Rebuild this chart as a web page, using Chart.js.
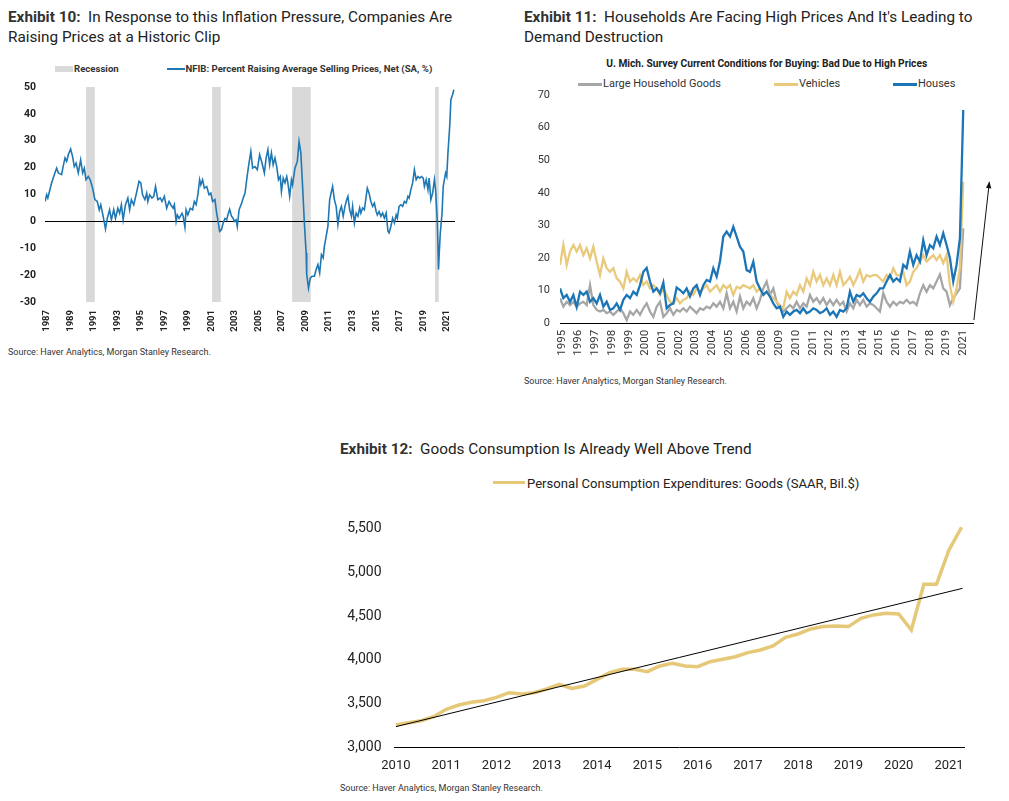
<!DOCTYPE html>
<html>
<head>
<meta charset="utf-8">
<script src="https://cdn.jsdelivr.net/npm/chart.js@4.4.1/dist/chart.umd.min.js"></script>
<style>
  html, body { margin: 0; padding: 0; background: #fff; }
  body { position: relative; width: 1009px; height: 801px; overflow: hidden; font-family: Roboto, "Noto Sans", sans-serif; color: #222; }
  .abs { position: absolute; white-space: nowrap; line-height: 1; }
  .title { font-size: 15.3px; line-height: 19.7px; color: #222; }
  .title b { color: #333; }
  .src { font-size: 9px; color: #333; }
  .swatch { position: absolute; }
  canvas { position: absolute; }
</style>
</head>
<body>

<!-- Exhibit 10 -->
<div class="abs title" style="left:8px;top:8.1px;"><b>Exhibit 10:</b>&nbsp; In Response to this Inflation Pressure, Companies Are<br>Raising Prices at a Historic Clip</div>
<div class="swatch" style="left:55px;top:66px;width:18px;height:6px;background:#d9d9d9;"></div>
<div class="abs" style="left:74px;top:64.3px;font-size:9.6px;font-weight:bold;color:#333;">Recession</div>
<div class="swatch" style="left:167px;top:68.3px;width:18px;height:2px;background:#1f78b4;"></div>
<div class="abs" style="left:185.5px;top:64.3px;font-size:9.6px;font-weight:bold;color:#333;">NFIB: Percent Raising Average Selling Prices, Net (SA, %)</div>
<canvas id="nfibChart" width="470" height="265" style="left:0;top:80px;width:470px;height:265px;"></canvas>
<div class="abs src" style="left:8px;top:348px;">Source: Haver Analytics, Morgan Stanley Research.</div>

<!-- Exhibit 11 -->
<div class="abs title" style="left:524px;top:8.1px;"><b>Exhibit 11:</b>&nbsp; Households Are Facing High Prices And It's Leading to<br>Demand Destruction</div>
<div class="abs" style="left:566.7px;width:400px;text-align:center;top:59px;font-size:10.2px;font-weight:bold;color:#222;">U. Mich. Survey Current Conditions for Buying: Bad Due to High Prices</div>
<div class="swatch" style="left:578px;top:83px;width:24px;height:3px;background:#a6a6a6;"></div>
<div class="abs" style="left:603px;top:78px;font-size:11px;color:#333;">Large Household Goods</div>
<div class="swatch" style="left:774px;top:83px;width:24px;height:3px;background:#e9c97c;"></div>
<div class="abs" style="left:799px;top:78px;font-size:11px;color:#333;">Vehicles</div>
<div class="swatch" style="left:893px;top:83px;width:24px;height:3px;background:#1b75b6;"></div>
<div class="abs" style="left:918px;top:78px;font-size:11px;color:#333;">Houses</div>
<canvas id="umichChart" width="500" height="277" style="left:500px;top:88px;width:500px;height:277px;"></canvas>
<div class="abs src" style="left:524px;top:377px;">Source: Haver Analytics, Morgan Stanley Research.</div>

<!-- Exhibit 12 -->
<div class="abs title" style="left:340px;top:442.2px;line-height:1;"><b>Exhibit 12:</b>&nbsp; Goods Consumption Is Already Well Above Trend</div>
<div class="swatch" style="left:493px;top:480.5px;width:32px;height:3.5px;background:#e5c878;"></div>
<div class="abs" style="left:527px;top:477px;font-size:13.1px;color:#222;">Personal Consumption Expenditures: Goods (SAAR, Bil.$)</div>
<canvas id="pceChart" width="650" height="263" style="left:330px;top:515px;width:650px;height:263px;"></canvas>
<div class="abs src" style="left:340px;top:784px;">Source: Haver Analytics, Morgan Stanley Research.</div>

<script>
/* ---------- Exhibit 10: NFIB price plans ---------- */
const NFIB_YEARS = [
  1986.86, 1987.0, 1987.1, 1987.42, 1987.7, 1987.85, 1988.0, 1988.27, 1988.4, 1988.56,
  1988.7, 1988.84, 1989.04, 1989.2, 1989.35, 1989.5, 1989.69, 1989.89, 1990.06, 1990.2,
  1990.34, 1990.54, 1990.7, 1990.9, 1991.1, 1991.3, 1991.47, 1991.6, 1991.8, 1992.0,
  1992.15, 1992.35, 1992.5, 1992.7, 1992.85, 1993.05, 1993.2, 1993.35, 1993.5, 1993.7,
  1993.9, 1994.05, 1994.2, 1994.4, 1994.6, 1994.85, 1995.0, 1995.15, 1995.35, 1995.5,
  1995.6, 1995.75, 1995.95, 1996.1, 1996.25, 1996.45, 1996.65, 1996.8, 1997.0, 1997.2,
  1997.4, 1997.55, 1997.75, 1997.85, 1998.0, 1998.1, 1998.25, 1998.5, 1998.6, 1998.75,
  1998.85, 1999.0, 1999.2, 1999.4, 1999.55, 1999.7, 1999.85, 2000.0, 2000.1, 2000.25,
  2000.4, 2000.6, 2000.8, 2000.95, 2001.1, 2001.3, 2001.45, 2001.55, 2001.7, 2001.85,
  2002.0, 2002.15, 2002.3, 2002.4, 2002.55, 2002.7, 2002.85, 2002.95, 2003.1, 2003.2,
  2003.35, 2003.55, 2003.75, 2003.86, 2004.0, 2004.15, 2004.35, 2004.5, 2004.7, 2004.9,
  2005.1, 2005.3, 2005.5, 2005.65, 2005.8, 2005.95, 2006.1, 2006.25, 2006.4, 2006.55,
  2006.7, 2006.85, 2006.95, 2007.1, 2007.25, 2007.4, 2007.5, 2007.65, 2007.8, 2007.9,
  2008.1, 2008.3, 2008.45, 2008.6, 2008.75, 2008.9, 2009.05, 2009.1, 2009.25, 2009.4,
  2009.55, 2009.75, 2009.9, 2010.05, 2010.2, 2010.35, 2010.5, 2010.6, 2010.75, 2010.9,
  2011.05, 2011.2, 2011.3, 2011.45, 2011.6, 2011.75, 2011.9, 2012.05, 2012.2, 2012.35,
  2012.5, 2012.6, 2012.75, 2012.9, 2013.0, 2013.15, 2013.3, 2013.45, 2013.6, 2013.7,
  2013.85, 2014.0, 2014.15, 2014.25, 2014.4, 2014.55, 2014.7, 2014.85, 2015.0, 2015.1,
  2015.25, 2015.4, 2015.55, 2015.7, 2015.85, 2016.0, 2016.1, 2016.25, 2016.4, 2016.55,
  2016.7, 2016.8, 2016.95, 2017.1, 2017.25, 2017.4, 2017.55, 2017.7, 2017.8, 2017.95,
  2018.1, 2018.25, 2018.4, 2018.55, 2018.7, 2018.85, 2019.0, 2019.1, 2019.25, 2019.4,
  2019.5, 2019.65, 2019.8, 2019.95, 2020.05, 2020.2, 2020.3, 2020.35, 2020.45, 2020.6,
  2020.7, 2020.8, 2020.9, 2021.0, 2021.1, 2021.25, 2021.35, 2021.5, 2021.6
];
const NFIB_VALUES = [
  7.4, 9.9, 8.7, 14.3, 18, 19.8, 18, 17.4, 20.4, 23.6,
  22.3, 24.8, 26.9, 24.2, 20.4, 21.7, 18, 22.9, 18, 19.8,
  15.5, 16.7, 15.5, 12.4, 8.1, 7.4, 4.3, 6.2, 1.9, -2.8,
  1.1, 4.3, 0.6, 4.3, 1.1, 4.9, 3, 6.2, 0.6, 6.2,
  8.7, 4.3, 8.1, 6.2, 9.9, 14.9, 14.3, 9.9, 8.1, 10.5,
  7.4, 9.9, 8.7, 9.3, 13, 8.1, 8.7, 7.4, 9.3, 4.9,
  7.4, 6.2, 4.9, 6.2, 0, 2.4, 1.1, 3, 1.9, -2.2,
  4.3, 2.4, 4.9, 4.3, 7.4, 6.2, 9.9, 15.5, 13.6, 15.5,
  12.4, 13, 9.9, 10.5, 7.4, 8.1, 3, 0.6, -3.7, -3.1,
  -0.6, 1.1, 0.6, 2.4, 4.5, 2, 1.1, 0, 0.6, -1.9,
  4.3, 6.5, 9.3, 10.5, 15.5, 20.4, 26, 19.8, 20.4, 19.2,
  24.8, 21.7, 18, 23.6, 26.7, 21.1, 25.5, 21.1, 23.6, 20.4,
  15.5, 16.7, 11.1, 16.1, 14.3, 16.7, 14.3, 9.3, 15.5, 13.6,
  19.8, 22.3, 29.7, 25.5, 13, -0.6, -11.8, -19.8, -24.8, -21.1,
  -20.4, -20.4, -17.9, -16.1, -19.2, -12.4, -13.6, -9.3, -5.6, -1.9,
  8.1, 11.1, 13, 8.1, 5.6, -1.2, 3.7, 5.6, 1.9, 5.6,
  8.1, 9.3, 4.3, 1.9, 5.6, -0.6, 3.1, 1.9, 5, 3.1,
  5, 4.3, 9.3, 12.4, 10.5, 7.4, 5.6, 6.8, 3.7, 2.4,
  3.7, 1.9, 3.1, 1.2, 3.1, -3.7, -4.3, -1.9, 1.2, -0.6,
  2.4, 1.2, 5.6, 6.2, 5.6, 7.4, 6.8, 9.3, 8.7, 11.8,
  14.3, 19.2, 15.5, 16.7, 16.1, 16.7, 16.1, 13, 15.5, 11.8,
  16.1, 8.1, 10.5, 15.5, 11.8, -0.6, -17.9, -12.9, -4.3, 3.1,
  13, 15.5, 18, 16.7, 25.5, 35.4, 45.3, 47.2, 49
];
const NFIB_TICKS = [1987, 1989, 1991, 1993, 1995, 1997, 1999, 2001, 2003, 2005,
  2007, 2009, 2011, 2013, 2015, 2017, 2019, 2021];
const NFIB_Y_TICKS = [-30, -20, -10, 0, 10, 20, 30, 40, 50];
const RECESSION_START = [1990.35, 2001.06, 2007.86, 2020.0];
const RECESSION_END = [1991.09, 2001.8, 2009.44, 2020.32];

/* ---------- Exhibit 11: U. Mich. buying conditions ---------- */
// readings taken at an even step along the axis, starting at the left edge of the plot
const UMICH_START = 1994.892;
const UMICH_STEP = 0.21575;
const LARGE_GOODS = [
  7.7, 5.1, 6.6, 5.6, 6.6, 5.1, 6.1, 6.6, 5.6, 11.7,
  5.6, 4.1, 3.6, 4.1, 3.1, 3.6, 2.6, 3.6, 4.6, 3.1,
  1.0, 3.6, 2.6, 4.1, 2.6, 4.6, 6.1, 3.6, 2.0, 5.1,
  6.6, 2.0, 3.1, 4.6, 2.6, 4.1, 3.6, 4.6, 3.6, 5.1,
  4.1, 3.1, 4.6, 4.1, 5.1, 4.6, 6.1, 5.1, 6.6, 4.6,
  9.2, 4.6, 6.6, 3.6, 8.2, 4.6, 6.6, 5.6, 7.7, 4.6,
  7.2, 10.7, 12.8, 8.7, 10.7, 6.6, 4.6, 3.6, 4.6, 5.6,
  4.6, 6.6, 4.6, 6.1, 5.1, 8.7, 6.6, 7.7, 6.1, 7.7,
  5.6, 7.2, 5.6, 7.2, 5.6, 6.6, 3.6, 6.1, 4.6, 7.2,
  5.6, 7.2, 5.1, 6.1, 5.6, 4.6, 3.6, 9.2, 6.6, 5.1,
  6.6, 5.6, 6.6, 6.1, 7.2, 6.1, 6.6, 5.6, 9.2, 11.7,
  9.7, 11.7, 10.7, 12.8, 15.0, 10.7, 9.7, 5.6, 7.7, 9.2,
  10.7, 29.1
];
const VEHICLES = [
  17.9, 24.0, 17.9, 22.0, 24.0, 22.0, 24.0, 20.9, 23.0, 19.9,
  23.5, 18.9, 14.8, 19.9, 16.9, 15.8, 16.9, 13.8, 12.8, 10.7,
  15.8, 12.8, 13.8, 12.8, 14.8, 11.7, 12.8, 10.7, 11.7, 10.7,
  8.7, 10.7, 8.7, 6.6, 6.1, 7.7, 6.1, 7.2, 7.7, 9.7,
  8.7, 10.7, 9.7, 10.7, 11.7, 9.7, 10.7, 11.7, 9.7, 11.7,
  10.7, 11.7, 8.7, 11.2, 10.7, 11.7, 11.2, 10.7, 11.7, 9.7,
  10.7, 8.7, 9.7, 8.7, 7.7, 6.6, 5.6, 4.6, 9.7, 7.7,
  9.7, 8.7, 11.7, 9.7, 13.8, 11.7, 15.8, 12.8, 14.8, 11.7,
  13.8, 11.7, 14.8, 11.7, 15.8, 11.7, 12.8, 14.3, 11.7, 13.8,
  16.3, 12.8, 14.8, 14.3, 14.8, 14.8, 13.8, 12.8, 14.8, 13.8,
  16.9, 14.8, 14.8, 15.8, 11.7, 12.8, 15.8, 16.9, 18.9, 20.9,
  18.9, 19.9, 20.9, 19.4, 20.9, 18.4, 20.9, 11.7, 6.6, 10.7,
  16.9, 43.4
];
const HOUSES = [
  10.7, 7.7, 8.7, 6.6, 8.7, 5.0, 9.7, 8.7, 9.7, 6.6,
  7.7, 6.1, 8.7, 5.1, 6.6, 4.1, 4.6, 6.1, 4.1, 7.2,
  8.7, 7.7, 9.7, 8.7, 11.7, 15.8, 17.0, 12.8, 9.7, 10.7,
  9.2, 12.5, 4.6, 5.6, 6.1, 11.0, 10.2, 9.2, 10.7, 8.2,
  10.7, 11.7, 8.7, 11.7, 13.3, 12.8, 16.9, 14.3, 19.0, 26.6,
  28.1, 26.6, 29.6, 26.6, 23.5, 22.0, 16.3, 15.8, 18.9, 12.8,
  10.7, 8.7, 9.7, 8.2, 6.1, 4.6, 5.1, 2.0, 3.6, 2.6,
  3.6, 4.1, 3.1, 4.6, 3.1, 3.6, 4.6, 4.1, 3.1, 3.6,
  4.6, 2.6, 3.6, 2.0, 4.1, 3.6, 4.6, 9.7, 6.6, 8.7,
  8.2, 9.2, 7.7, 6.6, 8.2, 9.2, 10.7, 10.7, 12.8, 14.8,
  12.8, 13.8, 12.8, 17.9, 16.9, 22.0, 17.9, 20.9, 18.9, 25.5,
  20.9, 24.0, 23.0, 26.6, 24.0, 27.6, 24.0, 20.0, 12.8, 17.9,
  26.0, 65.4
];
// the source axis labels one tick every 13 months, which is why 2007 and 2020 never show
const UMICH_TICK_LABELS = ['1995', '1996', '1997', '1998', '1999', '2000', '2001', '2002',
  '2003', '2004', '2005', '2006', '2008', '2009', '2010', '2011', '2012', '2013', '2014',
  '2015', '2016', '2017', '2018', '2019', '2021'];
const UMICH_Y_TICKS = [0, 10, 20, 30, 40, 50, 60, 70];
const UMICH_ARROW_FROM = [2021.69, 1.0];
const UMICH_ARROW_TO = [2022.69, 43.4];

/* ---------- Exhibit 12: PCE goods vs trend ---------- */
const PCE_START = 2010;
const PCE_GOODS = [
  3258, 3285, 3308, 3353, 3437, 3486, 3517, 3536, 3574, 3627,
  3612, 3627, 3669, 3722, 3676, 3703, 3779, 3855, 3893, 3893,
  3866, 3931, 3961, 3931, 3923, 3980, 4007, 4037, 4083, 4113,
  4159, 4258, 4296, 4353, 4380, 4387, 4380, 4475, 4513, 4532,
  4524, 4341, 4862, 4862, 5253, 5512
];
const PCE_TREND_X = [2010.0, 2021.27];
const PCE_TREND_Y = [3240, 4816];
const PCE_X_TICKS = [2010, 2011, 2012, 2013, 2014, 2015, 2016, 2017, 2018, 2019, 2020, 2021];
const PCE_Y_TICKS = [3000, 3500, 4000, 4500, 5000, 5500];

const BLUE_NFIB = "#1f78b4";
const BLUE_HOUSES = "#1b75b6";
const GOLD_VEHICLES = "#e9c97c";
const GOLD_PCE = "#e5c878";
const GREY_GOODS = "#a6a6a6";
const RECESSION_GREY = "#d9d9d9";

// pin an axis to a fixed thickness and stop its labels from pushing the plot inwards
function fixedSize(size) {
  return (scale) => {
    if (scale.isHorizontal()) scale.height = size;
    else scale.width = size;
    scale.paddingTop = 0;
    scale.paddingBottom = 0;
    scale.paddingLeft = 0;
    scale.paddingRight = 0;
  };
}

function useTicks(values) {
  return (scale) => {
    scale.ticks = values.map((value) => ({ value }));
  };
}

function zeroLineOnly(ctx) {
  return ctx.tick && ctx.tick.value === 0 ? "#000" : "rgba(0,0,0,0)";
}

const recessionBands = {
  id: "recessionBands",
  beforeDraw(chart) {
    const { ctx, chartArea, scales: { x } } = chart;
    ctx.save();
    ctx.fillStyle = RECESSION_GREY;
    RECESSION_START.forEach((start, i) => {
      const left = x.getPixelForValue(start);
      const right = x.getPixelForValue(RECESSION_END[i]);
      ctx.fillRect(left, chartArea.top, right - left, chartArea.bottom - chartArea.top);
    });
    ctx.restore();
  },
};

const upArrow = {
  id: "upArrow",
  afterDraw(chart) {
    const { ctx, scales: { x, y } } = chart;
    const x0 = x.getPixelForValue(UMICH_ARROW_FROM[0]);
    const y0 = y.getPixelForValue(UMICH_ARROW_FROM[1]);
    const x1 = x.getPixelForValue(UMICH_ARROW_TO[0]);
    const y1 = y.getPixelForValue(UMICH_ARROW_TO[1]);
    const angle = Math.atan2(y1 - y0, x1 - x0);
    ctx.save();
    ctx.strokeStyle = "#111";
    ctx.fillStyle = "#111";
    ctx.lineWidth = 1;
    ctx.beginPath();
    ctx.moveTo(x0, y0);
    ctx.lineTo(x1, y1);
    ctx.stroke();
    ctx.beginPath();
    ctx.moveTo(x1, y1);
    ctx.lineTo(x1 - 7 * Math.cos(angle - 0.4), y1 - 7 * Math.sin(angle - 0.4));
    ctx.lineTo(x1 - 7 * Math.cos(angle + 0.4), y1 - 7 * Math.sin(angle + 0.4));
    ctx.closePath();
    ctx.fill();
    ctx.restore();
  },
};

function renderNfibChart() {
  new Chart(document.getElementById("nfibChart"), {
    type: "line",
    data: {
      datasets: [{
        data: NFIB_YEARS.map((year, i) => ({ x: year, y: NFIB_VALUES[i] })),
        borderColor: BLUE_NFIB,
        borderWidth: 1.6,
        pointRadius: 0,
        tension: 0,
      }],
    },
    options: {
      animation: false,
      responsive: false,
      layout: { autoPadding: false, padding: { top: 7, right: 15, bottom: 0, left: 0 } },
      plugins: { legend: { display: false }, tooltip: { enabled: false } },
      scales: {
        x: {
          type: "linear", min: 1986.86, max: 2021.7,
          afterBuildTicks: useTicks(NFIB_TICKS),
          afterFit: fixedSize(43),
          grid: { display: false, drawTicks: false },
          border: { display: false },
          ticks: {
            autoSkip: false, minRotation: 90, maxRotation: 90, padding: 8,
            color: "#222", font: { family: "Roboto", weight: "bold", size: 9.5 },
            callback: (value) => String(value),
          },
        },
        y: {
          min: -30, max: 50,
          afterBuildTicks: useTicks(NFIB_Y_TICKS),
          afterFit: fixedSize(45),
          grid: { drawTicks: false, color: zeroLineOnly, lineWidth: 1 },
          border: { display: false },
          ticks: { padding: 9, color: "#222", font: { family: "Roboto", weight: "bold", size: 10.5 } },
        },
      },
    },
    plugins: [recessionBands],
  });
}

function renderUmichChart() {
  const toPoints = (values) => values.map((y, i) => ({ x: UMICH_START + i * UMICH_STEP, y }));
  new Chart(document.getElementById("umichChart"), {
    type: "line",
    data: {
      datasets: [
        { label: "Houses", data: toPoints(HOUSES), borderColor: BLUE_HOUSES, borderWidth: 2.3, pointRadius: 0, order: 1 },
        { label: "Vehicles", data: toPoints(VEHICLES), borderColor: GOLD_VEHICLES, borderWidth: 2.3, pointRadius: 0, order: 2 },
        { label: "Large Household Goods", data: toPoints(LARGE_GOODS), borderColor: GREY_GOODS, borderWidth: 2.3, pointRadius: 0, order: 3 },
      ],
    },
    options: {
      animation: false,
      responsive: false,
      layout: { autoPadding: false, padding: { top: 7, right: 27, bottom: 0, left: 0 } },
      plugins: { legend: { display: false }, tooltip: { enabled: false } },
      scales: {
        x: {
          type: "linear", min: 1994.89, max: 2021.63,
          afterBuildTicks: useTicks(UMICH_TICK_LABELS.map((_, i) => 1995 + (13 * i) / 12)),
          afterFit: fixedSize(41.7),
          grid: { display: false, drawTicks: false },
          border: { display: true, color: "#000", width: 1 },
          ticks: {
            autoSkip: false, minRotation: 90, maxRotation: 90, padding: 6.5,
            color: "#333", font: { family: "Roboto", size: 11.5 },
            callback: (value, index) => UMICH_TICK_LABELS[index],
          },
        },
        y: {
          min: 0, max: 70,
          afterBuildTicks: useTicks(UMICH_Y_TICKS),
          afterFit: fixedSize(60),
          grid: { display: false, drawTicks: false },
          border: { display: false },
          ticks: { padding: 10, color: "#333", font: { family: "Roboto", size: 11 } },
        },
      },
    },
    plugins: [upArrow],
  });
}

function renderPceChart() {
  new Chart(document.getElementById("pceChart"), {
    type: "line",
    data: {
      datasets: [
        {
          label: "Trend",
          data: PCE_TREND_X.map((x, i) => ({ x, y: PCE_TREND_Y[i] })),
          borderColor: "#000", borderWidth: 1, pointRadius: 0, order: 0,
        },
        {
          label: "Personal Consumption Expenditures: Goods (SAAR, Bil.$)",
          data: PCE_GOODS.map((y, i) => ({ x: PCE_START + i * 0.25, y })),
          borderColor: GOLD_PCE, borderWidth: 3.5, pointRadius: 0, order: 1, clip: false,
        },
      ],
    },
    options: {
      animation: false,
      responsive: false,
      layout: { autoPadding: false, padding: { top: 13.3, right: 15.5, bottom: 0, left: 0 } },
      plugins: { legend: { display: false }, tooltip: { enabled: false } },
      scales: {
        x: {
          type: "linear", min: 2009.968, max: 2021.308,
          afterBuildTicks: useTicks(PCE_X_TICKS),
          afterFit: fixedSize(30.3),
          grid: { display: false, drawTicks: false },
          border: { display: true, color: "#000", width: 1 },
          ticks: {
            autoSkip: false, maxRotation: 0, padding: 10,
            color: "#222", font: { family: "Roboto", size: 13 },
            callback: (value) => String(value),
          },
        },
        y: {
          min: 3000, max: 5500,
          afterBuildTicks: useTicks(PCE_Y_TICKS),
          afterFit: fixedSize(64.3),
          grid: { display: false, drawTicks: false },
          border: { display: false },
          ticks: {
            padding: 12.7, color: "#222", font: { family: "Roboto", size: 14 },
            callback: (value) => value.toLocaleString("en-US"),
          },
        },
      },
    },
  });
}

document.fonts.ready.then(() => {
  renderNfibChart();
  renderUmichChart();
  renderPceChart();
});
</script>
</body>
</html>
